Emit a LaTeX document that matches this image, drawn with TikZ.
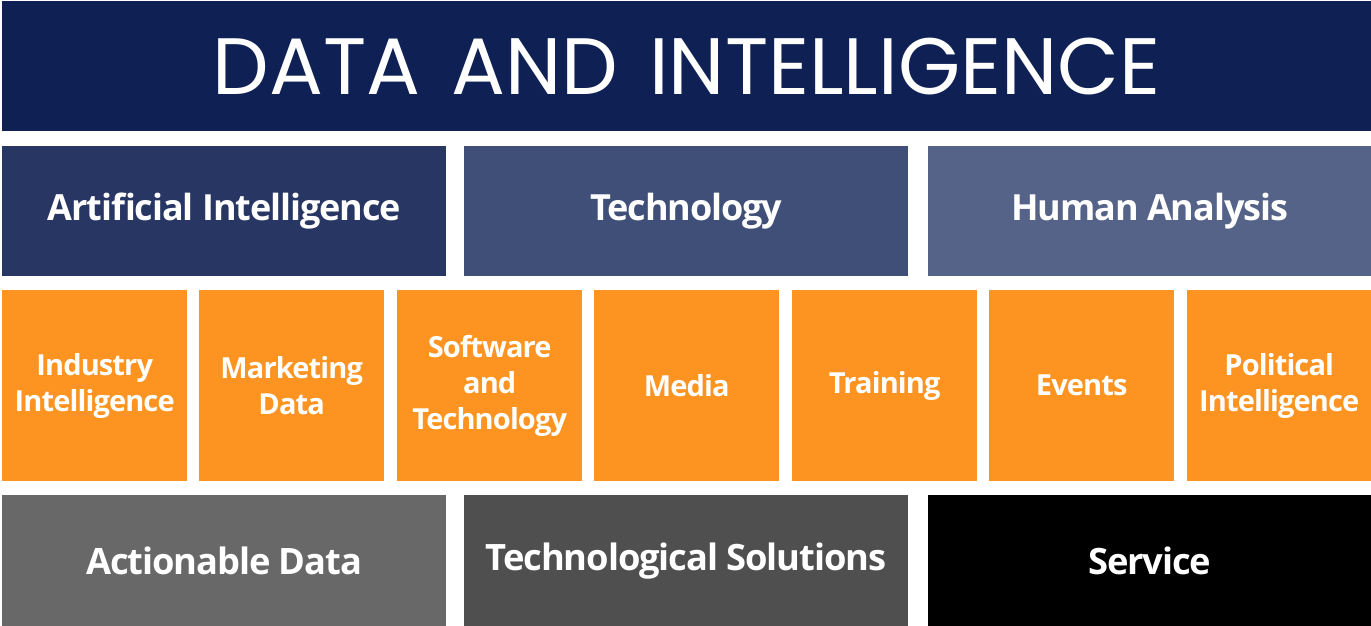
\documentclass[tikz,border=0pt]{standalone}
\usepackage{fontspec}
\setmainfont{Open Sans}
\newfontfamily\bannerfont{Poppins}
\newfontfamily\tilefont[LetterSpace=-3]{Open Sans}
\usepackage{tikz}
\usetikzlibrary{positioning}

\definecolor{navy}{HTML}{0F2055}
\definecolor{pillarA}{HTML}{283663}
\definecolor{pillarB}{HTML}{3F4F78}
\definecolor{pillarC}{HTML}{566389}
\definecolor{tileorange}{HTML}{FD9421}
\definecolor{baseA}{HTML}{686868}
\definecolor{baseB}{HTML}{4F4F4F}
\definecolor{baseC}{HTML}{000000}

\begin{document}
\begin{tikzpicture}[x=1pt,y=-1pt,
    block/.style={anchor=north west, inner sep=0pt, text=white, align=center},
    banner/.style={block, fill=navy, minimum width=1369pt, minimum height=130pt,
        font=\bannerfont\fontsize{80}{80}\selectfont},
    pillar/.style={block, minimum width=444pt, minimum height=130pt,
        font=\tilefont\bfseries\fontsize{36}{40}\selectfont},
    tile/.style={block, fill=tileorange, minimum width=185pt, minimum height=191pt,
        font=\tilefont\bfseries\fontsize{29}{36}\selectfont},
    base/.style={block, minimum width=444pt, minimum height=131pt,
        font=\tilefont\bfseries\fontsize{36.3}{40}\selectfont}]

        \useasboundingbox (0,0) rectangle (1371,626);

        % heading
        \node[banner] (head) at (2,1) {DATA\hspace{0.12em} AND\hspace{0.12em} INTELLIGENCE};

        % three pillars
        \node[pillar, fill=pillarA] (ai) at (2,146) {Artificial Intelligence};
        \node[pillar, fill=pillarB] (tech) at (464,146) {Technology};
        \node[pillar, fill=pillarC, minimum width=443pt] (human) at (928,146) {Human Analysis};

        % orange tiles
        \node[tile] (industry) at (2,290) {Industry\\Intelligence};
        \node[tile] (marketing) at (199,290) {Marketing\\Data};
        \node[tile] (software) at (397,290) {Software\\and\\Technology};
        \node[tile] (media) at (594,290) {Media};
        \node[tile] (training) at (792,290) {Training};
        \node[tile] (events) at (989,290) {Events};
        \node[tile, minimum width=184pt] (political) at (1187,290) {Political\\Intelligence};

        % bottom row
        \node[base, fill=baseA] (actionable) at (2,495) {Actionable Data};
        \node[base, fill=baseB] (solutions) at (464,495) {Technological Solutions};
        \node[base, fill=baseC, minimum width=443pt] (service) at (928,495) {Service};
      \end{tikzpicture}
\end{document}
